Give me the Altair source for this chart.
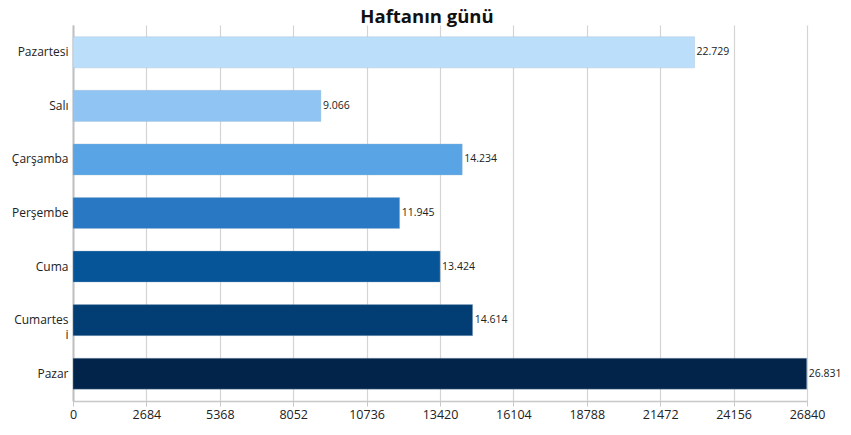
import altair as alt
import pandas as pd

TITLE = "Haftanın günü"
days = ["Pazartesi", "Salı", "Çarşamba", "Perşembe", "Cuma", "Cumartesi", "Pazar"]
values = [22729, 9066, 14234, 11945, 13424, 14614, 26831]
colors = ["#BBDEFB", "#90C5F3", "#58A4E4", "#2878C3", "#065599", "#023E73", "#03244A"]
ticks = [0, 2684, 5368, 8052, 10736, 13420, 16104, 18788, 21472, 24156, 26840]

df = pd.DataFrame({"day": days, "value": values, "color": colors})

FONT = "Open Sans"

x = alt.X("value:Q", scale=alt.Scale(domain=[0, 26840], nice=False, zero=True),
          axis=alt.Axis(values=ticks, title=None, grid=True, gridColor="#d4d4d4",
                        gridWidth=1.2, domainColor="#c8c8c8", domainWidth=1.5,
                        tickColor="#c8c8c8", tickSize=5, labelFont=FONT,
                        labelFontSize=12.5, labelColor="#222", labelPadding=2,
                        labelFlush=False, format="d"))
y = alt.Y("day:N", sort=days,
          scale=alt.Scale(paddingInner=0.42, paddingOuter=0.22),
          axis=alt.Axis(title=None, ticks=False, domainColor="#c0c0c0", domainWidth=2,
                        labelFont=FONT, labelFontSize=12, labelColor="#222",
                        labelPadding=5, labelLineHeight=15,
                        labelExpr="datum.label == 'Cumartesi' ? ['Cumartes', 'i'] : datum.label"))

bars = alt.Chart(df).mark_bar(stroke="#9fb8d0", strokeWidth=0.6, strokeOpacity=0.6).encode(
    x=x, y=y, color=alt.Color("color:N", scale=None))

labels = alt.Chart(df).transform_calculate(
    lbl="replace(format(datum.value, ','), ',', '.')"
).mark_text(align="left", baseline="middle", dx=2, font=FONT, fontSize=10.5, color="#222").encode(
    x="value:Q", y=alt.Y("day:N", sort=days), text="lbl:N")

title = alt.Chart(pd.DataFrame({"t": [TITLE]})).mark_text(
    align="center", baseline="alphabetic", font=FONT, fontSize=18.5, fontWeight="bold",
    color="#111").encode(x=alt.value(354), y=alt.value(-2), text="t:N")

chart = (bars + labels + title).properties(
    width=734, height=376,
    autosize=alt.AutoSizeParams(type="none"),
    padding={"left": 65, "top": 17, "right": 36, "bottom": 26},
).configure_view(stroke=None)

chart.save("out.html", embed_options={"renderer": "svg", "actions": False})
